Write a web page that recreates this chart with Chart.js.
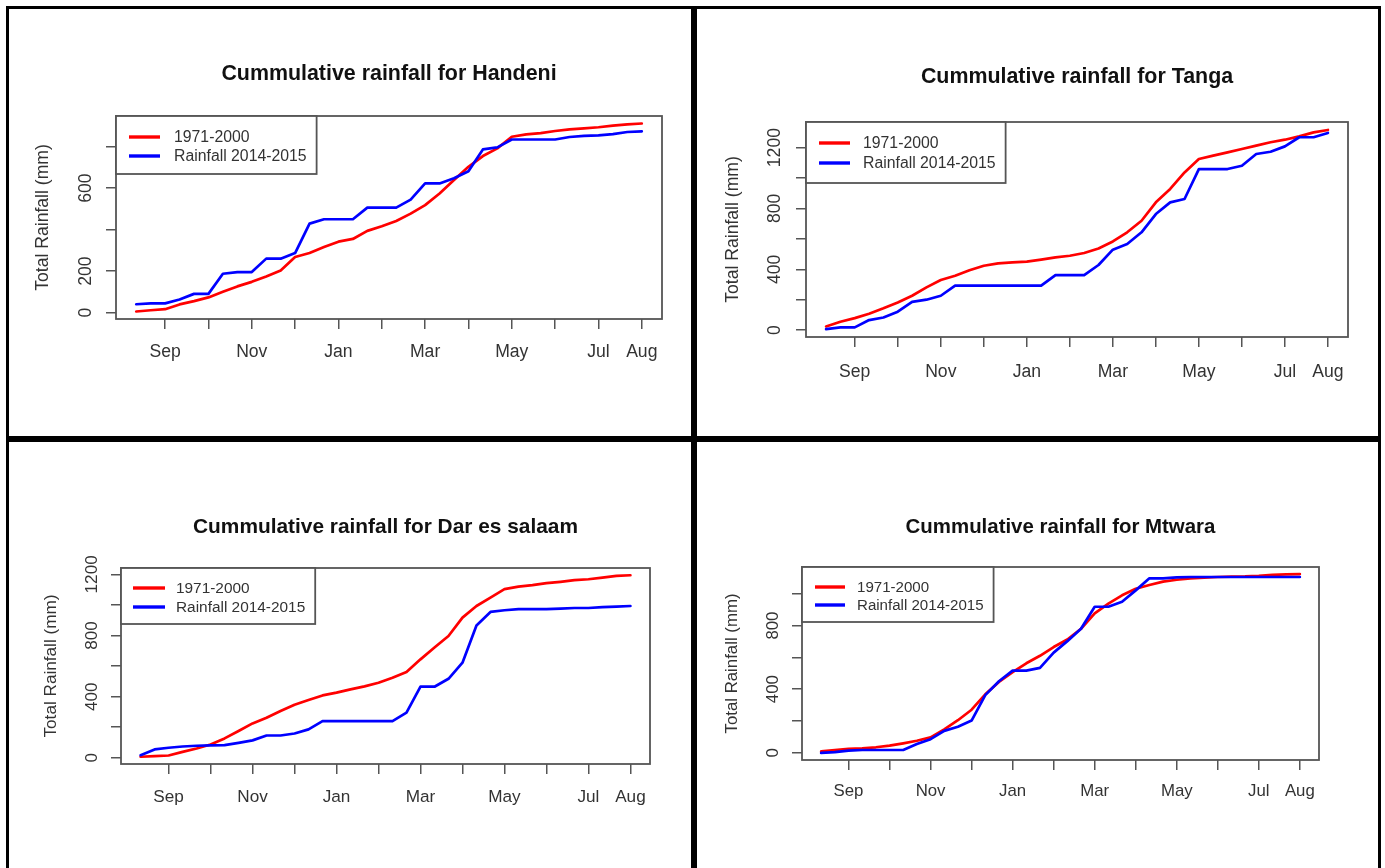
<!DOCTYPE html>
<html>
<head>
<meta charset="utf-8">
<title>Cummulative rainfall</title>
<script src="https://cdn.jsdelivr.net/npm/chart.js@4.4.1/dist/chart.umd.min.js"></script>
<style>
  html, body { margin: 0; padding: 0; background: #fff; width: 1385px; height: 868px; overflow: hidden; }
  .panel { position: absolute; box-sizing: border-box; border: 3px solid #000; background: #fff; overflow: hidden; }
  .panel canvas { position: absolute; left: 0; top: 0; }
</style>
</head>
<body>
<div class="panel" style="left:6px;top:6px;width:688px;height:433px"><canvas id="c1" width="682" height="427"></canvas></div>
<div class="panel" style="left:694px;top:6px;width:687px;height:433px"><canvas id="c2" width="681" height="427"></canvas></div>
<div class="panel" style="left:6px;top:439px;width:688px;height:440px"><canvas id="c3" width="682" height="434"></canvas></div>
<div class="panel" style="left:694px;top:439px;width:687px;height:440px"><canvas id="c4" width="681" height="434"></canvas></div>

<script>
// Dekads (10-day periods) from mid-August 2014 to the start of August 2015
const dekads = ['Aug-2','Aug-3','Sep-1','Sep-2','Sep-3','Oct-1','Oct-2','Oct-3','Nov-1','Nov-2','Nov-3',
  'Dec-1','Dec-2','Dec-3','Jan-1','Jan-2','Jan-3','Feb-1','Feb-2','Feb-3','Mar-1','Mar-2','Mar-3',
  'Apr-1','Apr-2','Apr-3','May-1','May-2','May-3','Jun-1','Jun-2','Jun-3','Jul-1','Jul-2','Jul-3','Aug-1'];

// One tick per month start; some month names are left out
const monthLabels = ['Sep','','Nov','','Jan','','Mar','','May','','Jul','Aug'];

const seriesNames = ['1971-2000', 'Rainfall 2014-2015'];

// Cumulative rainfall (mm), long-term mean and 2014-2015 season
const handeniNormal = [5, 11, 16, 39, 55, 73, 100, 126, 148, 174, 203, 268, 287, 316, 342, 355, 394, 416,
  442, 477, 518, 574, 639, 703, 755, 792, 848, 860, 866, 876, 884, 889, 894, 902, 908, 912];
const handeniSeason = [40, 44, 44, 63, 90, 90, 187, 195, 195, 260, 260, 287, 429, 450, 450, 450, 506, 506,
  506, 545, 623, 623, 648, 682, 787, 797, 835, 835, 835, 835, 847, 852, 855, 861, 871, 874];

const tangaNormal = [24, 55, 79, 107, 143, 182, 226, 281, 329, 357, 393, 423, 439, 445, 450, 463, 478, 489,
  507, 537, 583, 643, 719, 840, 928, 1037, 1125, 1147, 1169, 1191, 1213, 1235, 1252, 1274, 1300, 1316];
const tangaSeason = [7, 18, 18, 66, 83, 121, 186, 200, 226, 292, 292, 292, 292, 292, 292, 292, 362, 362,
  362, 428, 529, 566, 643, 763, 840, 862, 1059, 1059, 1059, 1081, 1158, 1173, 1208, 1268, 1268, 1296];

const darNormal = [7, 11, 15, 39, 61, 87, 127, 175, 225, 262, 306, 347, 378, 408, 426, 448, 467, 491,
  524, 561, 644, 721, 797, 917, 993, 1048, 1103, 1120, 1129, 1142, 1151, 1162, 1168, 1179, 1190, 1194];
const darSeason = [17, 55, 66, 74, 79, 81, 83, 98, 114, 146, 146, 159, 186, 240, 240, 240, 240, 240,
  240, 295, 465, 465, 517, 622, 866, 954, 965, 972, 972, 972, 976, 980, 980, 985, 989, 993];

const mtwaraNormal = [10, 18, 25, 29, 35, 45, 60, 76, 97, 148, 205, 271, 368, 446, 507, 563, 610, 665,
  712, 780, 877, 938, 990, 1031, 1055, 1076, 1088, 1097, 1101, 1105, 1107, 1109, 1113, 1119, 1121, 1123];
const mtwaraSeason = [0, 4, 14, 18, 18, 18, 18, 55, 86, 138, 164, 203, 363, 450, 517, 517, 534, 630,
  702, 780, 918, 918, 949, 1021, 1097, 1097, 1103, 1105, 1105, 1105, 1105, 1105, 1105, 1105, 1105, 1105];

// Y axis ticks and their printed labels
const handeniYTicks = [0, 200, 400, 600, 800];
const handeniYLabels = ['0', '200', '', '600', ''];
const tangaYTicks = [0, 200, 400, 600, 800, 1000, 1200];
const tangaYLabels = ['0', '', '400', '', '800', '', '1200'];
const darYTicks = [0, 200, 400, 600, 800, 1000, 1200];
const darYLabels = ['0', '', '400', '', '800', '', '1200'];
const mtwaraYTicks = [0, 200, 400, 600, 800, 1000];
const mtwaraYLabels = ['0', '', '400', '', '800', ''];

// ---- presentation ----
const FONT = "'Liberation Sans', Arial, Helvetica, sans-serif";
const RED = '#ff0000', BLUE = '#0000ff';
const AXIS_GREY = '#555';

const panels = [
  { canvas: 'c1', title: 'Cummulative rainfall for Handeni',
    normal: handeniNormal, season: handeniSeason, yTicks: handeniYTicks, yLabels: handeniYLabels,
    box: { left: 107, top: 107, right: 653, bottom: 310 }, titleY: 65, xLabelY: 343, yTitleX: 34, yLabelX: 77, k: 1,
    legend: { h: 58, rows: [21, 40], line: [13, 44], textX: 58 } },
  { canvas: 'c2', title: 'Cummulative rainfall for Tanga',
    normal: tangaNormal, season: tangaSeason, yTicks: tangaYTicks, yLabels: tangaYLabels,
    box: { left: 109, top: 113, right: 651, bottom: 328 }, titleY: 68, xLabelY: 363, yTitleX: 36, yLabelX: 78, k: 1,
    legend: { h: 61, rows: [21, 41], line: [13, 44], textX: 57 } },
  { canvas: 'c3', title: 'Cummulative rainfall for Dar es salaam',
    normal: darNormal, season: darSeason, yTicks: darYTicks, yLabels: darYLabels,
    box: { left: 112, top: 126, right: 641, bottom: 322 }, titleY: 85, xLabelY: 355, yTitleX: 42, yLabelX: 83, k: 0.975,
    legend: { h: 56, rows: [20, 39], line: [12, 44], textX: 55 } },
  { canvas: 'c4', title: 'Cummulative rainfall for Mtwara',
    normal: mtwaraNormal, season: mtwaraSeason, yTicks: mtwaraYTicks, yLabels: mtwaraYLabels,
    box: { left: 105, top: 125, right: 622, bottom: 318 }, titleY: 85, xLabelY: 349, yTitleX: 35, yLabelX: 76, k: 0.955,
    legend: { h: 55, rows: [20, 38], line: [13, 43], textX: 55 } }
];

// Month-start positions on the dekad index axis
const monthTicks = dekads.map((d, i) => d.endsWith('-1') ? i : -1).filter(i => i >= 0);

// Axis limits padded by 4% of the data range on each side
function paddedRange(values) {
  const lo = Math.min(...values), hi = Math.max(...values);
  const pad = (hi - lo) * 0.04;
  return [lo - pad, hi + pad];
}

// Frame, rotated y labels and boxed legend
const framePlugin = {
  id: 'frame',
  afterDatasetsDraw(chart, args, opts) {
    const { ctx, chartArea: ca } = chart;
    const p = opts.panel;
    const aSize = 17.6 * p.k, lSize = 15.8 * p.k;
    ctx.save();

    // plot box
    ctx.strokeStyle = AXIS_GREY;
    ctx.lineWidth = 1.8;
    ctx.strokeRect(ca.left, ca.top, ca.right - ca.left, ca.bottom - ca.top);

    // y tick labels, written along the axis
    const ys = chart.scales.y;
    ctx.fillStyle = '#333';
    ctx.font = aSize + 'px ' + FONT;
    ctx.textAlign = 'center';
    ctx.textBaseline = 'middle';
    ys.ticks.forEach((t, i) => {
      const lab = p.yLabels[i];
      if (!lab) return;
      ctx.save();
      ctx.translate(p.yLabelX, ys.getPixelForValue(t.value));
      ctx.rotate(-Math.PI / 2);
      ctx.fillText(lab, 0, 0);
      ctx.restore();
    });

    // legend
    const L = p.legend;
    const sets = chart.data.datasets;
    ctx.font = lSize + 'px ' + FONT;
    const textW = Math.max(...sets.map(d => ctx.measureText(d.label).width));
    const w = L.textX + textW + 10;
    ctx.fillStyle = '#fff';
    ctx.fillRect(ca.left, ca.top, w, L.h);
    ctx.strokeStyle = AXIS_GREY;
    ctx.lineWidth = 1.8;
    ctx.strokeRect(ca.left, ca.top, w, L.h);
    sets.forEach((d, i) => {
      const y = ca.top + L.rows[i];
      ctx.strokeStyle = d.borderColor;
      ctx.lineWidth = 3.4;
      ctx.beginPath();
      ctx.moveTo(ca.left + L.line[0], y);
      ctx.lineTo(ca.left + L.line[1], y);
      ctx.stroke();
      ctx.fillStyle = '#333';
      ctx.textAlign = 'left';
      ctx.textBaseline = 'middle';
      ctx.fillText(d.label, ca.left + L.textX, y + 1);
    });
    ctx.restore();
  }
};

panels.forEach(p => {
  const cv = document.getElementById(p.canvas);
  const W = cv.width, H = cv.height;
  const tSize = 21.4 * p.k, aSize = 17.6 * p.k;
  const tLH = tSize * 1.2, aLH = aSize * 1.2;
  const [yMin, yMax] = paddedRange(p.normal.concat(p.season));
  const [xMin, xMax] = paddedRange([0, dekads.length - 1]);

  const series = [p.normal, p.season];
  const colors = [RED, BLUE];

  new Chart(cv, {
    type: 'line',
    data: {
      datasets: series.map((vals, s) => ({
        label: seriesNames[s],
        data: vals.map((v, i) => ({ x: i, y: v })),
        borderColor: colors[s],
        backgroundColor: colors[s],
        borderWidth: 2.7,
        borderJoinStyle: 'round',
        borderCapStyle: 'round',
        pointRadius: 0,
        tension: 0,
        fill: false,
        order: s === 0 ? 1 : 0
      }))
    },
    options: {
      responsive: false,
      animation: false,
      devicePixelRatio: 1,
      events: [],
      layout: { padding: { left: 0, top: 0, right: W - p.box.right, bottom: 0 } },
      plugins: {
        legend: { display: false },
        tooltip: { enabled: false },
        title: {
          display: true,
          text: p.title,
          fullSize: false,
          color: '#111',
          font: { family: FONT, size: tSize, weight: 'bold' },
          padding: { top: p.titleY - tLH / 2, bottom: p.box.top - p.titleY - tLH / 2 }
        },
        frame: { panel: p }
      },
      scales: {
        x: {
          type: 'linear',
          min: xMin,
          max: xMax,
          afterBuildTicks: s => { s.ticks = monthTicks.map(v => ({ value: v })); },
          afterFit: s => { s.height = H - p.box.bottom; },
          ticks: {
            autoSkip: false, minRotation: 0, maxRotation: 0,
            padding: p.xLabelY - p.box.bottom - 10 - aLH / 2,
            color: '#333',
            font: { family: FONT, size: aSize },
            callback: (v, i) => monthLabels[i]
          },
          grid: { drawOnChartArea: false, drawTicks: true, tickLength: 10, color: AXIS_GREY, lineWidth: 1.5 },
          border: { display: false }
        },
        y: {
          type: 'linear',
          min: yMin,
          max: yMax,
          afterBuildTicks: s => { s.ticks = p.yTicks.map(v => ({ value: v })); },
          afterFit: s => { s.width = p.box.left; },
          ticks: { display: false },
          grid: { drawOnChartArea: false, drawTicks: true, tickLength: 10, color: AXIS_GREY, lineWidth: 1.5 },
          border: { display: false },
          title: {
            display: true,
            text: 'Total Rainfall (mm)',
            color: '#333',
            font: { family: FONT, size: aSize },
            padding: { top: p.yTitleX - aLH / 2, bottom: 0 }
          }
        }
      }
    },
    plugins: [framePlugin]
  });
});
</script>
</body>
</html>
